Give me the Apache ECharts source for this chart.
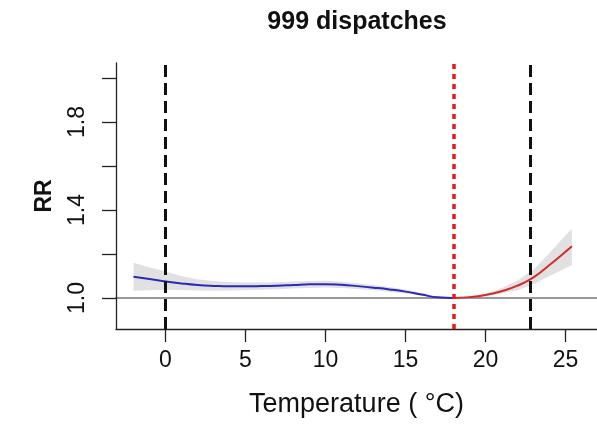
<!DOCTYPE html>
<html>
<head>
<meta charset="utf-8">
<script src="https://cdn.jsdelivr.net/npm/echarts@6/dist/echarts.min.js"></script>
<style>html,body{margin:0;padding:0;background:#fff}#c{width:597px;height:427px}</style>
</head>
<body>
<div id="c"></div>
<script>
// ---- data ----
const titleText = '999 dispatches';
const xName = 'Temperature ( \u00B0C)';
const yName = 'RR';
const temps = [-2, -1, 0, 1, 2, 3, 4, 5, 6, 7, 8, 9, 10, 11, 12, 13, 14, 15, 16, 17, 18, 19, 20, 21, 22, 23, 24, 25, 25.4];
const rr    = [1.097, 1.086, 1.075, 1.066, 1.059, 1.055, 1.053, 1.053, 1.054, 1.056, 1.059, 1.062, 1.063, 1.060, 1.054, 1.047, 1.039, 1.029, 1.016, 1.003, 1.000, 1.004, 1.014, 1.031, 1.056, 1.094, 1.150, 1.210, 1.235];
const lower = [1.033, 1.035, 1.037, 1.036, 1.034, 1.033, 1.034, 1.035, 1.037, 1.040, 1.043, 1.046, 1.048, 1.046, 1.041, 1.035, 1.028, 1.020, 1.010, 1.002, 1.000, 1.002, 1.009, 1.020, 1.035, 1.062, 1.100, 1.135, 1.150];
const upper = [1.160, 1.140, 1.120, 1.100, 1.085, 1.077, 1.073, 1.071, 1.071, 1.072, 1.075, 1.077, 1.078, 1.074, 1.067, 1.059, 1.050, 1.039, 1.023, 1.006, 1.000, 1.006, 1.020, 1.044, 1.080, 1.128, 1.205, 1.285, 1.315];
const xTicks = [0, 5, 10, 15, 20, 25];
const yTicks = [1.0, 1.2, 1.4, 1.6, 1.8, 2.0];
const yTickLabels = [1.0, 1.4, 1.8];
const cutoffs = [0, 22.8];   // black dashed lines
const mmt = 18;              // red dotted line (minimum risk temperature)
const refRR = 1.0;

// ---- build ----
const blueData = [], redData = [];
temps.forEach((t, i) => {
  if (t <= mmt) blueData.push([t, rr[i]]);
  if (t >= mmt) redData.push([t, rr[i]]);
});

const chart = echarts.init(document.getElementById('c'), null, {renderer: 'canvas'});
const font = 'Liberation Sans, Arial, sans-serif';

chart.setOption({
  animation: false,
  backgroundColor: '#ffffff',
  graphic: [{
    type: 'text', left: null, x: 357, y: 22,
    style: {text: titleText, font: 'bold 25px ' + font, fill: '#111', align: 'center', verticalAlign: 'middle'}
  }],
  grid: {left: 116, right: 0, top: 63, bottom: 98},
  xAxis: {
    type: 'value', min: -3.094, max: 26.969,
    name: xName, nameLocation: 'middle', nameGap: 62,
    nameTextStyle: {fontFamily: font, fontSize: 27, color: '#111'},
    axisLine: {onZero: false, lineStyle: {color: '#222', width: 1.3}},
    axisTick: {show: true, length: 13, customValues: xTicks, lineStyle: {color: '#222', width: 1.3}},
    axisLabel: {customValues: xTicks, fontFamily: font, fontSize: 23, color: '#111', margin: 20},
    splitLine: {show: false}
  },
  yAxis: {
    type: 'value', min: 0.8591, max: 2.0682,
    name: yName, nameLocation: 'middle', nameGap: 60, nameRotate: 90,
    nameTextStyle: {fontFamily: font, fontSize: 23, fontWeight: 'bold', color: '#111'},
    axisLine: {show: true, onZero: false, lineStyle: {color: '#222', width: 1.3}},
    axisTick: {show: true, length: 14, customValues: yTicks, lineStyle: {color: '#222', width: 1.3}},
    axisLabel: {customValues: yTickLabels, rotate: 90, fontFamily: font, fontSize: 23, color: '#111', margin: 27,
      formatter: v => Number(v).toFixed(1)},
    splitLine: {show: false}
  },
  series: [
    {
      type: 'custom', name: 'CI', silent: true, z: 1,
      data: [[temps[0], rr[0]]],
      renderItem: function (params, api) {
        const pts = [];
        for (let i = 0; i < temps.length; i++) pts.push(api.coord([temps[i], upper[i]]));
        for (let i = temps.length - 1; i >= 0; i--) pts.push(api.coord([temps[i], lower[i]]));
        return {type: 'polygon', shape: {points: pts}, style: {fill: '#e1e1e1', stroke: null}};
      }
    },
    {
      type: 'line', name: 'ref', data: [[-3.9, refRR], [28, refRR]], clip: false, z: 2,
      symbol: 'none', lineStyle: {color: '#333', width: 1}, silent: true
    },
    {
      type: 'line', name: 'cold', data: blueData, smooth: true, symbol: 'none', z: 3,
      lineStyle: {color: '#2a2ab8', width: 2}, silent: true
    },
    {
      type: 'line', name: 'heat', data: redData, smooth: true, symbol: 'none', z: 3,
      lineStyle: {color: '#d42a2a', width: 2}, silent: true,
      markLine: {
        silent: true, symbol: 'none', label: {show: false},
        data: [
          {xAxis: cutoffs[0], lineStyle: {color: '#111', width: 3, type: [12, 6]}},
          {xAxis: cutoffs[1], lineStyle: {color: '#111', width: 3, type: [12, 6]}},
          {xAxis: mmt, lineStyle: {color: '#e41a1c', width: 3.5, type: [5, 5]}}
        ]
      }
    }
  ]
});
</script>
</body>
</html>
